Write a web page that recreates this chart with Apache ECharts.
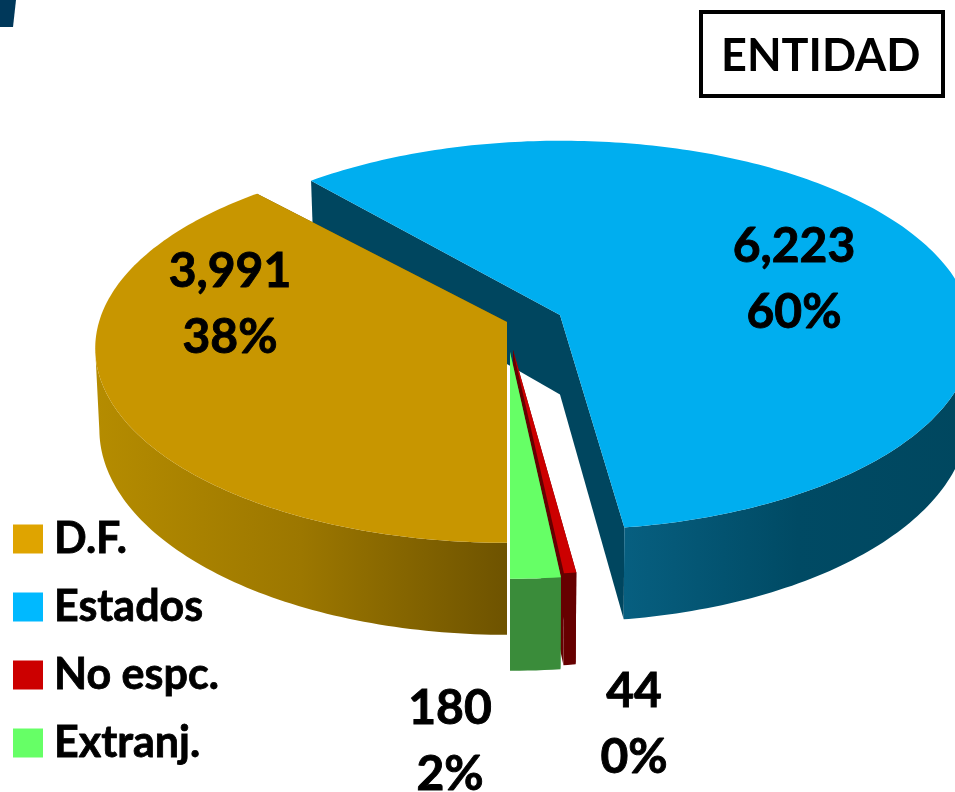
<!DOCTYPE html>
<html>
<head>
<meta charset="utf-8">
<style>html,body{margin:0;padding:0;background:#fff}#c{width:955px;height:792px}</style>
<script src="https://cdn.jsdelivr.net/npm/echarts@6/dist/echarts.min.js"></script>
</head>
<body>
<div id="c"></div>
<script>
const categories = ['D.F.', 'Estados', 'No espc.', 'Extranj.'];
const values = [3991, 6223, 44, 180];
const legendColors = ['#dfa400', '#00b9ff', '#cc0000', '#66ff66'];
const topColors = ['#c89600', '#00aeef', '#cc0000', '#66ff66'];
const wallColors = [['#b58c00', '#9c7700', '#6e5300'], ['#075f80', '#004a64', '#00475f'], ['#660000', '#660000', '#660000'], ['#3a8c3a', '#3a8c3a', '#3a8c3a']];
const cutColors = ['#6e5300', '#00465f', '#660000', '#3a8c3a'];
const titleText = 'ENTIDAD';

// Layout of the tilted pie: rim centre and visible inner corner of each exploded slice, label anchors
const centres = [[507, 322], [561, 309], [513, 354], [510, 358]];
const corners = [[507, 322], [560, 315], [513, 350], [510, 352]];
const labelAt = [[230, 305], [794, 280], [634, 725], [450, 742]];
const A = 408, B = 191, K = 0.135, DEPTH = 92, FLOOR_X = 0.99;
const FONT = '"Lato","Open Sans",sans-serif';
const total = values.reduce((a, b) => a + b, 0);
const rad = d => d * Math.PI / 180;

function rim(t, c) {
  const u = Math.sin(rad(t)), v = -Math.cos(rad(t)), w = 1 - K * v;
  return [c[0] + A * u / w, c[1] + B * v / w];
}
function depthAt(t) {
  return DEPTH * (1 - K) / (1 + K * Math.cos(rad(t)));
}
function floor(t, c) {
  const r = rim(t, c);
  return [c[0] + (r[0] - c[0]) * FLOOR_X, r[1] + depthAt(t)];
}
const apexDepth = DEPTH * (1 - K);

function renderSlice(i) {
  return function (params, api) {
    const value = api.value(0);
    let t0 = 180;
    for (let j = 0; j < i; j++) t0 += values[j] / total * 360;
    const t1 = t0 + value / total * 360;
    const c = centres[i], corner = corners[i];
    const cornerLow = [corner[0], corner[1] + apexDepth];
    const ts = [];
    for (let t = t0; t < t1; t += 1) ts.push(t);
    ts.push(t1);
    const children = [];
    // cut faces
    [t0, t1].forEach(t => {
      children.push({
        type: 'polygon',
        shape: { points: [corner, rim(t, c), floor(t, c), cornerLow] },
        style: { fill: cutColors[i] }
      });
    });
    // outer wall, front-facing part only (up to the silhouette of the rim)
    const front = ts.filter(t => Math.cos(rad(t)) < -K);
    if (front.length > 1) {
      const upper = front.map(t => rim(t, c));
      const lower = front.map(t => floor(t, c)).reverse();
      const w = wallColors[i];
      children.push({
        type: 'polygon',
        shape: { points: upper.concat(lower) },
        style: {
          fill: new echarts.graphic.LinearGradient(0, 0, 1, 0, [
            { offset: 0, color: w[0] }, { offset: 0.5, color: w[1] }, { offset: 1, color: w[2] }
          ])
        }
      });
    }
    // top face
    children.push({
      type: 'polygon',
      shape: { points: [corner].concat(ts.map(t => rim(t, c))) },
      style: { fill: topColors[i] }
    });
    // data label
    const pct = Math.round(value / total * 100);
    children.push({
      type: 'text',
      z2: 10,
      style: {
        x: labelAt[i][0], y: labelAt[i][1],
        text: value.toLocaleString('en-US') + '\n' + pct + '%',
        font: 'bold 48px ' + FONT,
        lineHeight: 66,
        fill: '#000',
        stroke: '#000',
        lineWidth: 0.9,
        align: 'center',
        verticalAlign: 'middle'
      }
    });
    return { type: 'group', children };
  };
}

const drawOrder = [1, 2, 3, 0];
const chart = echarts.init(document.getElementById('c'), null, { renderer: 'canvas' });
chart.setOption({
  animation: false,
  backgroundColor: '#fff',
  title: {
    text: titleText,
    left: 701, top: 12,
    borderColor: '#000', borderWidth: 4,
    padding: [21, 23, 17, 20],
    textStyle: { fontFamily: FONT, fontWeight: 'bold', fontSize: 45, color: '#000', lineHeight: 46 }
  },
  legend: {
    orient: 'vertical',
    left: 13, top: 517,
    itemWidth: 30, itemHeight: 29, itemGap: 24,
    icon: 'rect',
    padding: 0,
    selectedMode: false,
    textStyle: {
      fontFamily: FONT, fontWeight: 'bold', fontSize: 43, color: '#000',
      lineHeight: 44, padding: [0, 0, 0, 6],
      textBorderColor: '#000', textBorderWidth: 0.8
    },
    data: categories.map((name, i) => ({ name, itemStyle: { color: legendColors[i] } }))
  },
  graphic: [{
    type: 'polygon', silent: true,
    shape: { points: [[0, 0], [16, 0], [13, 27], [0, 27]] },
    style: { fill: '#00385a' }
  }],
  series: drawOrder.map(i => ({
    type: 'custom',
    name: categories[i],
    coordinateSystem: 'none',
    silent: true,
    clip: false,
    itemStyle: { color: legendColors[i] },
    z: 2 + drawOrder.indexOf(i),
    data: [[values[i]]],
    renderItem: renderSlice(i)
  }))
});
</script>
</body>
</html>
